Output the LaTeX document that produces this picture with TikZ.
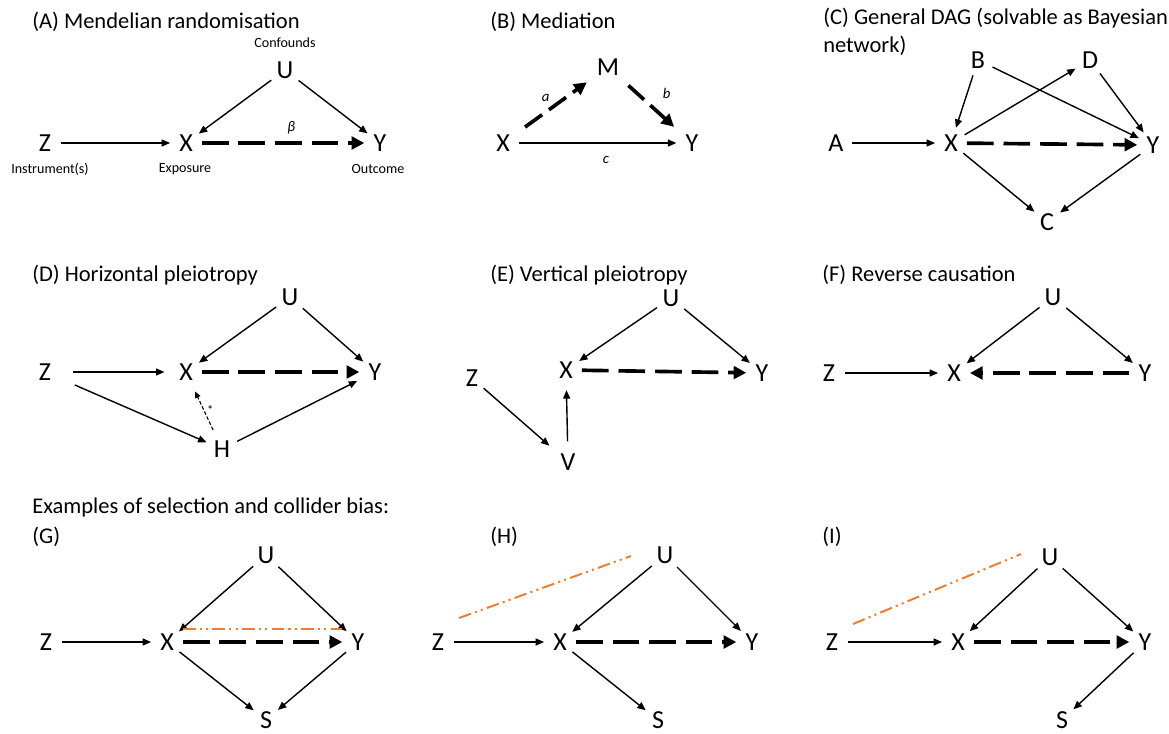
\documentclass[tikz,border=0pt]{standalone}
\usepackage{fontspec}
\setmainfont{Carlito}
\usetikzlibrary{arrows.meta,positioning}
\definecolor{bias}{RGB}{237,125,49}
\definecolor{ink}{RGB}{0,0,0}
\tikzset{
  >={Triangle[length=6pt,width=5pt]},
  var/.style={circle,inner sep=2.5pt,font=\fontsize{18.5}{20}\selectfont},
  note/.style={font=\fontsize{10}{12}\selectfont,inner sep=0pt},
  coef/.style={font=\fontsize{10.5}{12}\selectfont\itshape,inner sep=2pt},
  title/.style={anchor=west,font=\fontsize{16}{20}\selectfont,inner sep=0pt,align=left},
  edge/.style={->,line width=1pt,draw=ink},
  effect/.style={-{Triangle[length=9pt,width=9pt]},line width=2.6pt,draw=ink,
    dash pattern=on 19pt off 7pt},
  weak/.style={-{Triangle[length=4.5pt,width=4pt]},line width=0.8pt,dash pattern=on 2.5pt off 1.5pt},
  collider/.style={draw=bias,line width=1.4pt,
    dash pattern=on 9pt off 3pt on 1.5pt off 3pt on 1.5pt off 3pt},
}

\begin{document}
\begin{tikzpicture}[x=0.025cm,y=-0.025cm]
  \useasboundingbox (0,0) rectangle (1169,733);
  % (A) Mendelian randomisation
  \node[title] (aT) at (32,22) {(A) Mendelian randomisation};
  \node[var] (aU) at (285,70) {U}; \node[note] at (285,43) {Confounds};
  \node[var] (aZ) at (45,143) {Z}; \node[note] at (50,169) {Instrument(s)};
  \node[var] (aX) at (186,143) {X}; \node[note] at (185,169) {Exposure};
  \node[var] (aY) at (380,143) {Y}; \node[note] at (378,169) {Outcome};
  \draw[edge] (aZ) -- (aX);
  \draw[edge] (aU) -- (aX);
  \draw[edge] (aU) -- (aY);
  \draw[effect] (aX) -- node[coef,above=3pt,pos=0.55]{β} (aY);

  % (B) Mediation
  \node[title] (bT) at (490,22) {(B) Mediation};
  \node[var] (bM) at (608,67) {M};
  \node[var] (bX) at (503,143) {X};
  \node[var] (bY) at (692,143) {Y};
  \draw[effect,dash pattern=on 15pt off 6pt,shorten <=8pt,shorten >=5pt] (bX) -- node[coef,above left]{a} (bM);
  \draw[effect,dash pattern=on 15pt off 6pt,shorten <=6pt,shorten >=6pt] (bM) -- node[coef,above right=2pt and 5pt]{b} (bY);
  \draw[edge] (bX) -- node[coef,below=7pt,xshift=6pt]{c} (bY);

  % (C) General DAG
  \node[title,anchor=north west] (cT) at (823,8) {(C) General DAG (solvable as Bayesian\\network)};
  \node[var] (cB) at (978,60) {B};
  \node[var] (cD) at (1090,60) {D};
  \node[var] (cA) at (836,143) {A};
  \node[var] (cX) at (951,143) {X};
  \node[var] (cY) at (1153,145) {Y};
  \node[var] (cC) at (1047,222) {C};
  \draw[edge] (cA) -- (cX);
  \draw[edge] (cB) -- (cX);
  \draw[edge] (cX) -- (cD);
  \draw[edge] (cB) -- (cY);
  \draw[edge] (cD) -- (cY);
  \draw[effect] (cX) -- (cY);
  \draw[edge] (cX) -- (cC);
  \draw[edge] (cY) -- (cC);

  % (D) Horizontal pleiotropy
  \node[title] (dT) at (32,275) {(D) Horizontal pleiotropy};
  \node[var] (dU) at (290,297) {U};
  \node[var] (dZ) at (45,372) {Z};
  \node[var] (dX) at (186,372) {X};
  \node[var] (dY) at (375,372) {Y};
  \node[var] (dH) at (222,449) {H};
  \draw[edge,shorten <=9pt,shorten >=4pt] (dZ) -- (dX);
  \draw[edge] (dU) -- (dX);
  \draw[edge] (dU) -- (dY);
  \draw[effect] (dX) -- (dY);
  \draw[edge,shorten <=12pt] (dZ) -- (dH);
  \draw[edge,shorten >=3pt] (dH) -- (dY);
  \draw[weak,shorten <=3pt,shorten >=4pt] (dH) -- node[coef,right,font=\fontsize{9}{10}\selectfont]{*} (dX);

  % (E) Vertical pleiotropy
  \node[title] (eT) at (490,275) {(E) Vertical pleiotropy};
  \node[var] (eU) at (671,298) {U};
  \node[var] (eX) at (566,370) {X};
  \node[var] (eY) at (762,373) {Y};
  \node[var] (eZ) at (472,378) {Z};
  \node[var] (eV) at (568,462) {V};
  \draw[edge] (eU) -- (eX);
  \draw[edge] (eU) -- (eY);
  \draw[effect] (eX) -- (eY);
  \draw[edge,shorten >=6pt] (eZ) -- (eV);
  \draw[edge,shorten <=3pt,shorten >=3pt] (eV) -- (eX);

  % (F) Reverse causation
  \node[title] (fT) at (822,275) {(F) Reverse causation};
  \node[var] (fU) at (1053,297) {U};
  \node[var] (fZ) at (829,373) {Z};
  \node[var] (fX) at (954,373) {X};
  \node[var] (fY) at (1145,373) {Y};
  \draw[edge] (fZ) -- (fX);
  \draw[edge] (fU) -- (fX);
  \draw[edge] (fU) -- (fY);
  \draw[effect] (fY) -- (fX);

  % selection and collider bias
  \node[title] (sT) at (32,507) {Examples of selection and collider bias:};

  % (G)
  \node[title] (gT) at (32,537) {(G)};
  \node[var] (gU) at (266,555) {U};
  \node[var] (gZ) at (46,642) {Z};
  \node[var] (gX) at (167,642) {X};
  \node[var] (gY) at (358,642) {Y};
  \node[var] (gS) at (266,720) {S};
  \draw[edge] (gZ) -- (gX);
  \draw[edge] (gU) -- (gX);
  \draw[edge] (gU) -- (gY);
  \draw[effect] (gX) -- (gY);
  \draw[collider] ([yshift=9pt]gX.east) -- ([yshift=9pt]gY.west);
  \draw[edge] (gX) -- (gS);
  \draw[edge] (gY) -- (gS);

  % (H)
  \node[title] (hT) at (490,537) {(H)};
  \node[var] (hU) at (665,555) {U};
  \node[var] (hZ) at (438,642) {Z};
  \node[var] (hX) at (560,642) {X};
  \node[var] (hY) at (752,642) {Y};
  \node[var] (hS) at (658,720) {S};
  \coordinate (hB1) at (459,618);
  \coordinate (hB2) at (631,556);
  \draw[collider] (hB1) -- (hB2);
  \draw[edge] (hZ) -- (hX);
  \draw[edge] (hU) -- (hX);
  \draw[edge] (hU) -- (hY);
  \draw[effect] (hX) -- (hY);
  \draw[edge] (hX) -- (hS);

  % (I)
  \node[title] (iT) at (822,537) {(I)};
  \node[var] (iU) at (1050,557) {U};
  \node[var] (iZ) at (832,642) {Z};
  \node[var] (iX) at (958,642) {X};
  \node[var] (iY) at (1145,642) {Y};
  \node[var] (iS) at (1062,720) {S};
  \coordinate (iB1) at (853,624);
  \coordinate (iB2) at (1021,554);
  \draw[collider] (iB1) -- (iB2);
  \draw[edge] (iZ) -- (iX);
  \draw[edge] (iU) -- (iX);
  \draw[edge] (iU) -- (iY);
  \draw[effect] (iX) -- (iY);
  \draw[edge] (iY) -- (iS);
\end{tikzpicture}
\end{document}
